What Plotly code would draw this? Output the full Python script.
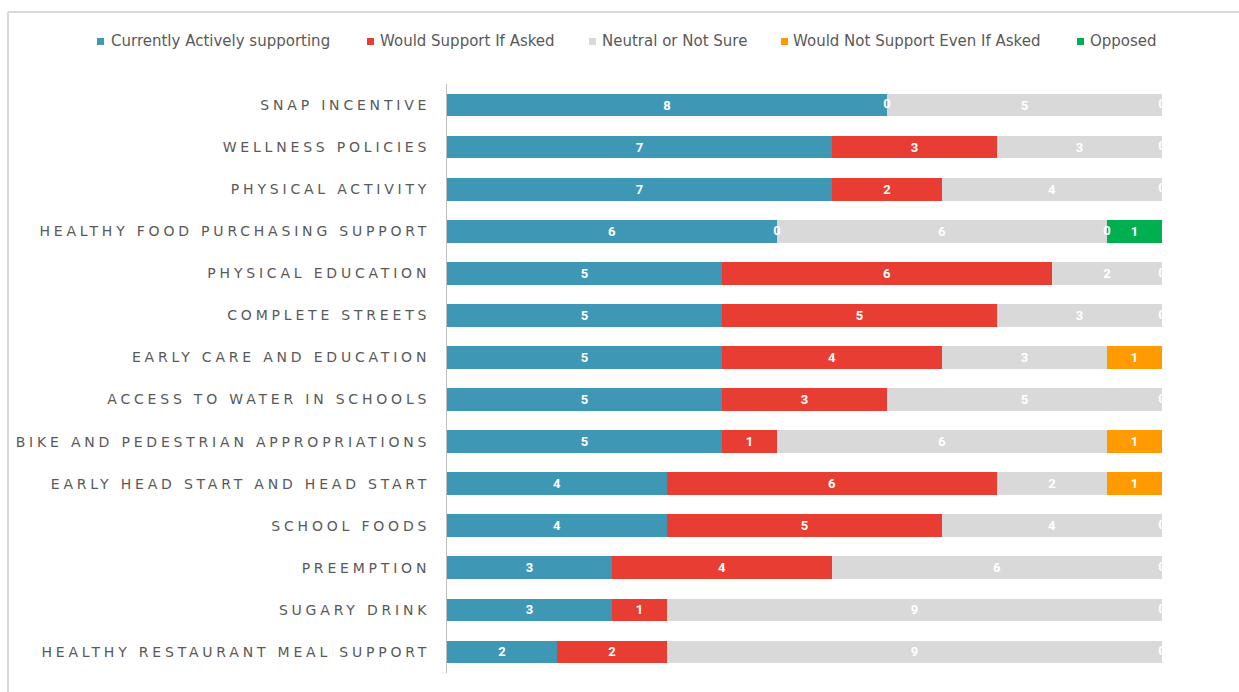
import plotly.graph_objects as go

# Policy areas, listed top to bottom
categories = [
    "SNAP INCENTIVE",
    "WELLNESS POLICIES",
    "PHYSICAL ACTIVITY",
    "HEALTHY FOOD PURCHASING SUPPORT",
    "PHYSICAL EDUCATION",
    "COMPLETE STREETS",
    "EARLY CARE AND EDUCATION",
    "ACCESS TO WATER IN SCHOOLS",
    "BIKE AND PEDESTRIAN APPROPRIATIONS",
    "EARLY HEAD START AND HEAD START",
    "SCHOOL FOODS",
    "PREEMPTION",
    "SUGARY DRINK",
    "HEALTHY RESTAURANT MEAL SUPPORT",
]

series_names = [
    "Currently Actively supporting",
    "Would Support If Asked",
    "Neutral or Not Sure",
    "Would Not Support Even If Asked",
    "Opposed",
]

currently_supporting = [8, 7, 7, 6, 5, 5, 5, 5, 5, 4, 4, 3, 3, 2]
would_support = [0, 3, 2, 0, 6, 5, 4, 3, 1, 6, 5, 4, 1, 2]
neutral = [5, 3, 4, 6, 2, 3, 3, 5, 6, 2, 4, 6, 9, 9]
would_not_support = [0, 0, 0, 0, 0, 0, 1, 0, 1, 1, 0, 0, 0, 0]
opposed = [0, 0, 0, 1, 0, 0, 0, 0, 0, 0, 0, 0, 0, 0]

series_values = [currently_supporting, would_support, neutral, would_not_support, opposed]
colors = ["#3F97B6", "#E83D32", "#D9D9D9", "#FF9A00", "#00AF50"]

W, H = 1239, 692
L, R, T, B = 447, 1162, 84, 673  # plot area in pixels


def px_x(p):
    return (p - L) / (R - L)


def px_y(p):
    return (B - p) / (B - T)


fig = go.Figure()

for name, vals, col in zip(series_names, series_values, colors):
    fig.add_trace(go.Bar(
        y=categories, x=vals, name=name, orientation="h",
        marker=dict(color=col, line=dict(width=0)),
        text=[str(v) if v else "" for v in vals],
        textposition="inside", insidetextanchor="middle",
        textangle=0, constraintext="none",
        textfont=dict(color="white", size=13, family="Roboto", weight="bold"),
        showlegend=False, hoverinfo="skip",
    ))

# zero-valued segments still carry a "0" label at their stacked position
zx, zy = [], []
for i, cat in enumerate(categories):
    cum = 0
    for k, vals in enumerate(series_values):
        v = vals[i]
        if v == 0 and k in (1, 3):
            zx.append(cum)
            zy.append(cat)
        cum += v
fig.add_trace(go.Scatter(
    x=zx, y=zy, mode="text", text=["0"] * len(zx),
    textposition="middle center",
    textfont=dict(color="white", size=13, family="Roboto", weight="bold"),
    cliponaxis=True, showlegend=False, hoverinfo="skip",
))

# legend row drawn as squares + labels
legend_sq_x = [97, 367, 589, 781, 1077]
legend_txt_x = [109, 378, 600, 791, 1088]
legend_y = 41
shapes = []
annotations = []
for name, col, sx, tx in zip(series_names, colors, legend_sq_x, legend_txt_x):
    shapes.append(dict(
        type="rect", xref="paper", yref="paper",
        x0=px_x(sx), x1=px_x(sx + 7), y0=px_y(legend_y + 4), y1=px_y(legend_y - 3),
        fillcolor=col, line=dict(width=0),
    ))
    annotations.append(dict(
        xref="paper", yref="paper", x=px_x(tx), y=px_y(legend_y),
        xanchor="left", yanchor="middle", text=name, showarrow=False,
        font=dict(family="DejaVu Sans", size=15, color="#595959"),
    ))

# outer chart frame (top and left edges)
shapes.append(dict(type="line", xref="paper", yref="paper",
                   x0=px_x(8), x1=px_x(W + 5), y0=px_y(12), y1=px_y(12),
                   line=dict(color="#D9D9D9", width=2)))
shapes.append(dict(type="line", xref="paper", yref="paper",
                   x0=px_x(8), x1=px_x(8), y0=px_y(12), y1=px_y(H + 5),
                   line=dict(color="#D9D9D9", width=2)))

fig.update_layout(
    width=W, height=H,
    margin=dict(l=L, r=W - R, t=T, b=H - B),
    barmode="stack", bargap=0.46,
    plot_bgcolor="white", paper_bgcolor="white",
    shapes=shapes, annotations=annotations,
    xaxis=dict(range=[0, 13], visible=False, fixedrange=True),
    yaxis=dict(
        categoryorder="array", categoryarray=categories[::-1],
        range=[-0.5, len(categories) - 0.5], autorange=False,
        showline=True, linecolor="#BFBFBF", linewidth=1,
        ticks="", ticklabelstandoff=13,
        tickfont=dict(family="DejaVu Sans", size=14, color="#595959"),
        showgrid=False, fixedrange=True,
    ),
)

post = """
var gd = document.getElementById('{plot_id}');
function spaceLabels(){
  gd.querySelectorAll('.ytick text').forEach(function(t){ t.style.letterSpacing = '3.8px'; });
}
spaceLabels();
gd.on('plotly_afterplot', spaceLabels);
"""

fig.write_html("out.html", post_script=post, config={"displayModeBar": False})
